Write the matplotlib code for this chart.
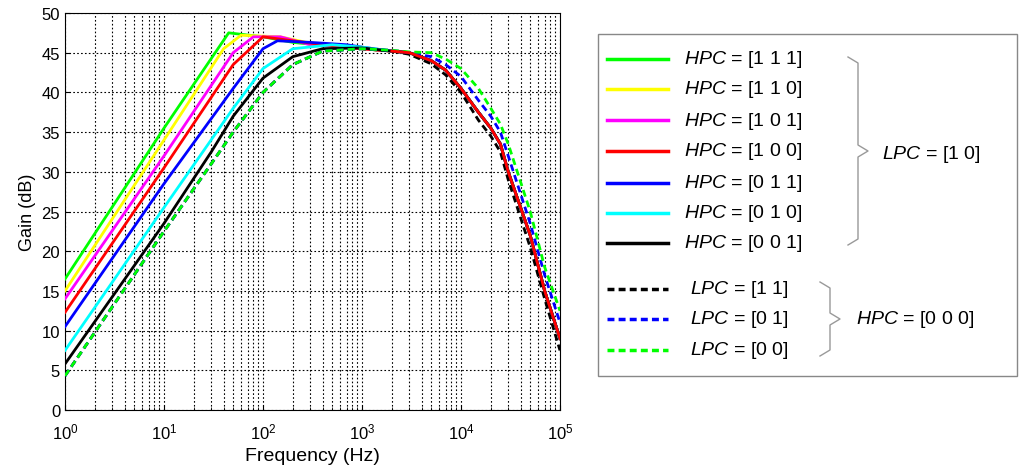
import matplotlib
matplotlib.use("Agg")
import matplotlib.pyplot as plt
import numpy as np

plt.rcParams["font.family"] = "Liberation Sans"
plt.rcParams["mathtext.fontset"] = "custom"
plt.rcParams["mathtext.it"] = "Liberation Sans:italic"
plt.rcParams["mathtext.rm"] = "Liberation Sans"

# Low-frequency parts (Hz, dB)
green_f = [1, 10, 45, 100, 200, 500, 1000]
green_g = [16.5, 35.5, 47.5, 47, 46.3, 45.8, 45.5]
yellow_f = [1, 10, 40, 60, 150, 300, 500, 1000]
yellow_g = [15, 34, 45.5, 47.2, 47, 46.2, 45.8, 45.5]
magenta_f = [1, 10, 50, 80, 150, 300, 500, 1000]
magenta_g = [14, 32, 45, 47, 47, 46, 45.8, 45.5]
red_f = [1, 10, 50, 100, 200, 400, 700, 1000]
red_g = [12.3, 30.5, 43.5, 47, 46.5, 46, 45.7, 45.5]
blue_f = [1, 10, 50, 100, 140, 300, 700, 1000]
blue_g = [10.5, 28.5, 40.5, 45.5, 46.5, 46.3, 46, 45.7]
cyan_f = [1, 10, 50, 100, 200, 500, 1000]
cyan_g = [7.5, 25.5, 38, 43, 45.5, 46, 45.7]
black_f = [1, 10, 30, 50, 100, 200, 400, 1000]
black_g = [5.8, 23.5, 32.5, 37, 41.8, 44.5, 45.5, 45.6]
dashed_low_f = [1, 10, 30, 50, 100, 200, 400, 1000]
dashed_low_g = [4.3, 22.5, 31, 35, 40, 43.5, 45.2, 45.5]

# High-frequency tails
tail_f = [2000, 3000, 5000, 7000, 10000, 15000, 20000, 25000, 30000, 50000, 70000, 100000]
solid_tail_g = [45.2, 45, 44, 42.8, 40.5, 37.5, 35.5, 33.5, 30, 22, 15, 9]
lpc11_tail_g = [45.2, 44.8, 43.6, 42.2, 40, 36.5, 34.5, 32.5, 29, 20.5, 14, 7.5]
lpc01_tail_g = [45.3, 45, 44.5, 43.5, 42, 39, 37, 35, 32, 23.5, 17, 11]
lpc00_tail_g = [45.3, 45.1, 45, 44.2, 43, 40.5, 38, 36, 33.5, 25, 18, 12.5]

solid_labels = ["[1 1 1]", "[1 1 0]", "[1 0 1]", "[1 0 0]", "[0 1 1]", "[0 1 0]", "[0 0 1]"]
solid_colors = ["#00ff00", "#ffff00", "#ff00ff", "#ff0000", "#0000ff", "#00ffff", "#000000"]
dashed_labels = ["[1 1]", "[0 1]", "[0 0]"]
dashed_colors = ["#000000", "#0000ff", "#00ff00"]

fig = plt.figure(figsize=(10.24, 4.77), dpi=100)
ax = fig.add_axes([65/1024, 1-411/477, (560-65)/1024, (411-14)/477])

solids = [(green_f, green_g), (yellow_f, yellow_g), (magenta_f, magenta_g), (red_f, red_g),
          (blue_f, blue_g), (cyan_f, cyan_g), (black_f, black_g)]
for (f, g), c in zip(solids, solid_colors):
    ax.plot(f + tail_f, g + solid_tail_g, color=c, lw=2, zorder=3)
for tg, c in zip([lpc11_tail_g, lpc01_tail_g, lpc00_tail_g], dashed_colors):
    ax.plot(dashed_low_f + tail_f, dashed_low_g + tg, color=c, lw=2, ls=(0, (2.5, 1.5)), zorder=3)
ax.plot(tail_f, solid_tail_g, color="#ff0000", lw=2, zorder=3.5)

ax.set_xscale("log")
ax.set_xlim(1, 1e5)
ax.set_ylim(0, 50)
ax.set_yticks(np.arange(0, 51, 5))
ax.grid(True, which="both", ls=(0, (1.5, 2)), color="black", lw=0.8)
ax.tick_params(labelsize=12, direction="in", which="both")
ax.tick_params(axis="x", pad=8)
ax.set_xlabel("Frequency (Hz)", fontsize=14)
ax.set_ylabel("Gain (dB)", fontsize=13)

# Legend overlay
ov = fig.add_axes([0, 0, 1, 1])
ov.set_xlim(0, 1024)
ov.set_ylim(477, 0)
ov.axis("off")
ov.add_patch(plt.Rectangle((598, 35), 419, 342, fill=False, ec="#888888", lw=1))
ys = [60, 90, 121, 152, 184, 214, 244]
for y, c, lab in zip(ys, solid_colors, solid_labels):
    ov.plot([607, 668], [y, y], color=c, lw=2.5)
    ov.text(684, y, r"$\it{HPC}$ = " + lab, fontsize=14, va="center")
yd = [290, 320, 351]
for y, c, lab in zip(yd, dashed_colors, dashed_labels):
    ov.plot([607, 668], [y, y], color=c, lw=2.5, ls=(0, (2, 1.2)))
    ov.text(690, y, r"$\it{LPC}$ = " + lab, fontsize=14, va="center")

def brace(x0, y0, y1, w):
    ym = (y0 + y1) / 2
    ov.plot([x0, x0 + w/2, x0 + w/2, x0 + w, x0 + w/2, x0 + w/2, x0],
            [y0, y0 + 6, ym - 6, ym, ym + 6, y1 - 6, y1], color="#999999", lw=1)

brace(848, 58, 246, 20)
ov.text(882, 155, r"$\it{LPC}$ = [1 0]", fontsize=14, va="center")
brace(820, 283, 357, 20)
ov.text(856, 320, r"$\it{HPC}$ = [0 0 0]", fontsize=14, va="center")

fig.savefig("out.png", dpi=100)
